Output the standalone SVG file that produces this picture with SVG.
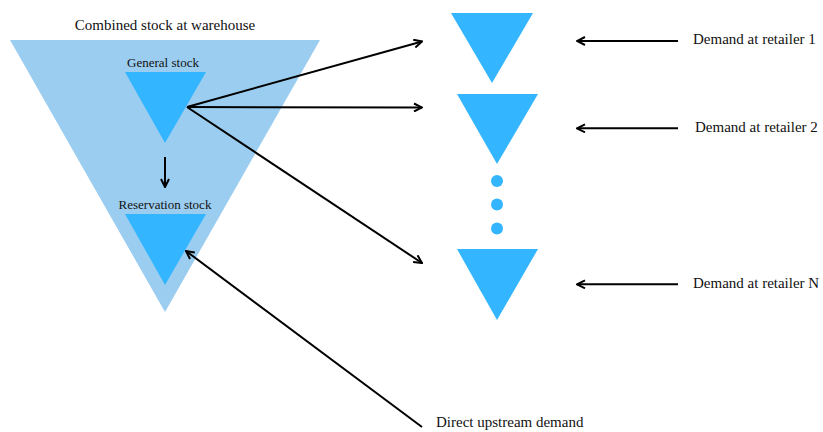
<svg xmlns="http://www.w3.org/2000/svg" width="823" height="432" viewBox="0 0 823 432">
<style>
.big{fill:#9BCDF0}
.tri{fill:#33B5FF}
.dot{fill:#33B5FF}
.lbl{font-family:"Liberation Serif","Times New Roman",serif;fill:#111}
.conn line{stroke:#000;stroke-width:2;marker-end:url(#ah)}
</style>
<defs>
<marker id="ah" viewBox="0 0 10 10" refX="9" refY="5" markerWidth="5" markerHeight="5" orient="auto" markerUnits="strokeWidth">
<path d="M1,1 L9,5 L1,9" fill="none" stroke="#000" stroke-width="2"/>
</marker>
</defs>
<rect width="823" height="432" fill="#fff"/>
<g id="warehouse">
<polygon class="big" points="10,40 320,40 165,312"/>
<text class="lbl" x="165" y="30" font-size="15" text-anchor="middle">Combined stock at warehouse</text>
</g>
<g id="general-stock">
<polygon class="tri" points="125,72 206,72 165,143"/>
<text class="lbl" x="163" y="67" font-size="13" text-anchor="middle">General stock</text>
</g>
<g id="reservation-stock">
<polygon class="tri" points="125,214 206,214 165,285"/>
<text class="lbl" x="165" y="209" font-size="13" text-anchor="middle">Reservation stock</text>
</g>
<g id="retailer1">
<polygon class="tri" points="451,13 533,13 492,83"/>
</g>
<g id="retailer2">
<polygon class="tri" points="457,94 538,94 497,164"/>
</g>
<g id="ellipsis">
<circle class="dot" cx="497" cy="181" r="6"/>
<circle class="dot" cx="497" cy="204.5" r="6"/>
<circle class="dot" cx="497" cy="228.5" r="6"/>
</g>
<g id="retailerN">
<polygon class="tri" points="457,249 538,249 497,320"/>
</g>
<g id="label-d1"><text class="lbl" x="693" y="44" font-size="15">Demand at retailer 1</text></g>
<g id="label-d2"><text class="lbl" x="695" y="132" font-size="15">Demand at retailer 2</text></g>
<g id="label-dN"><text class="lbl" x="693" y="288" font-size="15">Demand at retailer N</text></g>
<g id="label-up"><text class="lbl" x="436" y="427" font-size="15">Direct upstream demand</text></g>
<g id="connectors" class="conn">
<line x1="165" y1="157" x2="165" y2="187"/>
<line x1="187" y1="107" x2="422" y2="41.5"/>
<line x1="187" y1="107" x2="422" y2="107.5"/>
<line x1="187" y1="107" x2="422" y2="263"/>
<line x1="678" y1="41" x2="577" y2="41"/>
<line x1="678" y1="128.3" x2="577" y2="128.3"/>
<line x1="678" y1="284.3" x2="577" y2="284.3"/>
<line x1="422" y1="427" x2="186" y2="251"/>
</g>
</svg>
